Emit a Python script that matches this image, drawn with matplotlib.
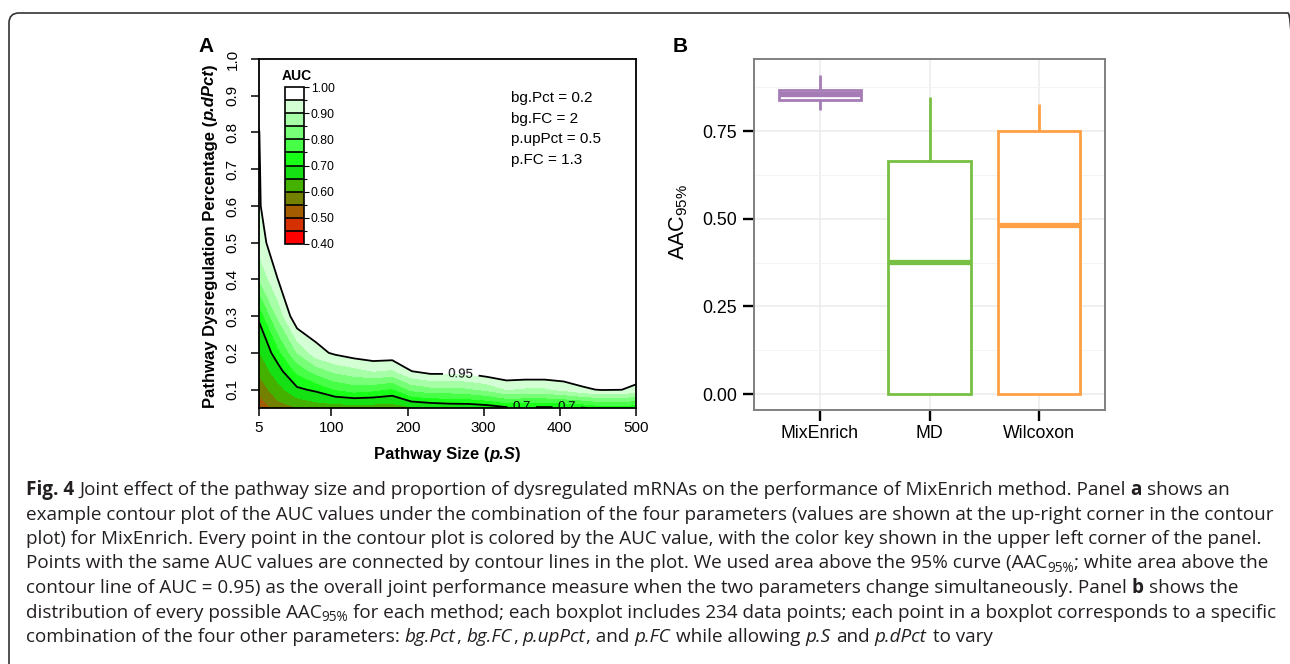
import numpy as np
import matplotlib
matplotlib.use("Agg")
import matplotlib.pyplot as plt
from matplotlib.patches import FancyBboxPatch
from matplotlib.ticker import FixedLocator

# ---------------- data: panel A (AUC surface) ----------------
path_size = [5, 30, 55, 80, 105, 130, 155, 180, 205, 230, 255, 280, 305, 330, 355, 380, 405, 430, 455, 480, 500]
dys_pct = [0.05, 0.10, 0.15, 0.20, 0.30, 0.40, 0.50, 0.60, 0.70, 0.80, 0.90, 1.00]

auc_p05 = [0.499, 0.58, 0.60, 0.62, 0.62, 0.62, 0.62, 0.62, 0.64, 0.65, 0.66, 0.66, 0.67, 0.69, 0.69, 0.69, 0.69, 0.695, 0.72, 0.72, 0.71]
auc_p10 = [0.57, 0.63, 0.69, 0.71, 0.75, 0.77, 0.76, 0.74, 0.81, 0.83, 0.83, 0.84, 0.86, 0.90, 0.89, 0.89, 0.91, 0.94, 0.955, 0.952, 0.93]
auc_p15 = [0.61, 0.68, 0.76, 0.82, 0.86, 0.88, 0.90, 0.89, 0.949, 0.97, 0.97, 0.97, 0.99, 1.0, 1.0, 1.0, 1.0, 1.0, 1.0, 1.0, 1.0]
auc_p20 = [0.645, 0.73, 0.85, 0.93, 0.96, 0.98, 0.99, 0.99, 1.0, 1.0, 1.0, 1.0, 1.0, 1.0, 1.0, 1.0, 1.0, 1.0, 1.0, 1.0, 1.0]
auc_p30 = [0.71, 0.86, 1.0, 1.0, 1.0, 1.0, 1.0, 1.0, 1.0, 1.0, 1.0, 1.0, 1.0, 1.0, 1.0, 1.0, 1.0, 1.0, 1.0, 1.0, 1.0]
auc_p40 = [0.85, 0.951, 1.0, 1.0, 1.0, 1.0, 1.0, 1.0, 1.0, 1.0, 1.0, 1.0, 1.0, 1.0, 1.0, 1.0, 1.0, 1.0, 1.0, 1.0, 1.0]
auc_p50 = [0.925, 0.99, 1.0, 1.0, 1.0, 1.0, 1.0, 1.0, 1.0, 1.0, 1.0, 1.0, 1.0, 1.0, 1.0, 1.0, 1.0, 1.0, 1.0, 1.0, 1.0]
auc_p60 = [0.945, 1.0, 1.0, 1.0, 1.0, 1.0, 1.0, 1.0, 1.0, 1.0, 1.0, 1.0, 1.0, 1.0, 1.0, 1.0, 1.0, 1.0, 1.0, 1.0, 1.0]
auc_p70 = [0.947, 1.0, 1.0, 1.0, 1.0, 1.0, 1.0, 1.0, 1.0, 1.0, 1.0, 1.0, 1.0, 1.0, 1.0, 1.0, 1.0, 1.0, 1.0, 1.0, 1.0]
auc_p80 = [0.949, 1.0, 1.0, 1.0, 1.0, 1.0, 1.0, 1.0, 1.0, 1.0, 1.0, 1.0, 1.0, 1.0, 1.0, 1.0, 1.0, 1.0, 1.0, 1.0, 1.0]
auc_p90 = [0.96, 1.0, 1.0, 1.0, 1.0, 1.0, 1.0, 1.0, 1.0, 1.0, 1.0, 1.0, 1.0, 1.0, 1.0, 1.0, 1.0, 1.0, 1.0, 1.0, 1.0]
auc_p100 = [0.98, 1.0, 1.0, 1.0, 1.0, 1.0, 1.0, 1.0, 1.0, 1.0, 1.0, 1.0, 1.0, 1.0, 1.0, 1.0, 1.0, 1.0, 1.0, 1.0, 1.0]

auc_levels = [0.40, 0.45, 0.50, 0.55, 0.60, 0.65, 0.70, 0.75, 0.80, 0.85, 0.90, 0.95, 1.00]
auc_ticks = [0.40, 0.50, 0.60, 0.70, 0.80, 0.90, 1.00]
plain_levels = [0.5]
labelled_levels = [0.7, 0.95]
x_ticks = [5, 100, 200, 300, 400, 500]
y_ticks = [0.1, 0.2, 0.3, 0.4, 0.5, 0.6, 0.7, 0.8, 0.9, 1.0]
param_text = ["bg.Pct = 0.2", "bg.FC = 2", "p.upPct = 0.5", "p.FC = 1.3"]

# ---------------- data: panel B (boxplot summaries) ----------------
methods = ["MixEnrich", "MD", "Wilcoxon"]
whisk_low = [0.810, 0.000, 0.000]
box_q1 = [0.839, 0.000, 0.000]
box_median = [0.855, 0.377, 0.482]
box_q3 = [0.868, 0.665, 0.750]
whisk_high = [0.910, 0.846, 0.827]
b_ticks = [0.00, 0.25, 0.50, 0.75]

# ---------------- styles ----------------
band_colors = ["#ff0000", "#d43000", "#a45c00", "#748000", "#44b000", "#14e014",
               "#18ff18", "#46ff46", "#77ff77", "#a6ffa6", "#d4ffd4", "#ffffff"]
method_colors = ["#a57cb5", "#78c043", "#ffa045"]

plt.rcParams["font.family"] = ["Liberation Sans", "DejaVu Sans"]
plt.rcParams["mathtext.fontset"] = "custom"
plt.rcParams["mathtext.rm"] = "Liberation Sans"
plt.rcParams["mathtext.it"] = "Liberation Sans:italic"
plt.rcParams["mathtext.bf"] = "Liberation Sans:bold"

W, H = 1290, 664
fig = plt.figure(figsize=(W / 100, H / 100), dpi=100)
renderer = fig.canvas.get_renderer()


def fr(l, t, r, b):
    return [l / W, 1 - b / H, (r - l) / W, (b - t) / H]


def fx(px):
    return px / W


def fy(py):
    return 1 - py / H


def width_of(s, kw):
    t = fig.text(0, 0, s, **kw)
    w = t.get_window_extent(renderer).width
    t.remove()
    return w


def compose(runs, cx, cy, base_kw, vertical=False):
    """Place mixed-style runs centred on (cx, cy) pixels (top-left origin)."""
    pieces = []
    total = 0.0
    for s, extra in runs:
        kw = dict(base_kw)
        kw.update(extra)
        w = width_of(s, kw)
        pieces.append((s, kw, w))
        total += w
    pos = -total / 2
    for s, kw, w in pieces:
        if vertical:
            fig.text(fx(cx), fy(cy - pos), s, rotation=90, rotation_mode="anchor",
                     ha="left", va="center", **kw)
        else:
            fig.text(fx(cx + pos), fy(cy), s, ha="left", va="center", **kw)
        pos += w + (1.5 if extra.get("fontstyle") == "italic" else 0.0)


# ---------------- Panel A ----------------
axA = fig.add_axes(fr(259, 59, 636, 408))
X, Y = np.meshgrid(path_size, dys_pct)
Z = np.array([auc_p05, auc_p10, auc_p15, auc_p20, auc_p30, auc_p40, auc_p50,
              auc_p60, auc_p70, auc_p80, auc_p90, auc_p100])
cf = axA.contourf(X, Y, Z, levels=auc_levels, colors=band_colors)
axA.contour(X, Y, Z, levels=plain_levels, colors="black", linewidths=1.3)
cs = axA.contour(X, Y, Z, levels=labelled_levels, colors="black", linewidths=1.3)
axA.clabel(cs, fmt=lambda v: f"{v:g}", fontsize=9.5,
           inline=True, inline_spacing=5,
           manual=[(270, 0.14), (350, 0.052), (409, 0.052)])
axA.set_xlim(5, 500)
axA.set_ylim(0.05, 1.0)
axA.set_xticks(x_ticks)
axA.set_xticklabels([str(v) for v in x_ticks])
axA.set_yticks(y_ticks)
axA.set_yticklabels([f"{v:.1f}" for v in y_ticks])
axA.tick_params(direction="out", length=6, width=1.1, labelsize=11, color="black")
axA.tick_params(axis="x", pad=3)
axA.tick_params(axis="y", pad=8)
for lab in axA.get_yticklabels():
    lab.set_rotation(90)
    lab.set_va("center")
for sp in axA.spines.values():
    sp.set_linewidth(1.3)
    sp.set_color("black")
for i, s in enumerate(param_text):
    axA.text(336, 0.894 - 0.0563 * i, s, fontsize=11, va="center", ha="left")

lab_kw = dict(family="Liberation Sans", fontsize=12, fontweight="bold", color="black")
compose([("Pathway Dysregulation Percentage (", {}), ("p.dPct", {"fontstyle": "italic"}), (")", {})],
        210, 236, lab_kw, vertical=True)
compose([("Pathway Size (", {}), ("p.S", {"fontstyle": "italic"}), (")", {})],
        447, 455, lab_kw, vertical=False)

# colour key inside panel A
cax = fig.add_axes(fr(285, 87, 304, 244))
cb = fig.colorbar(cf, cax=cax, ticks=auc_ticks, drawedges=True, format="%.2f")
cb.minorlocator = FixedLocator(auc_levels)
cb.outline.set_linewidth(1.2)
cb.outline.set_edgecolor("black")
cb.dividers.set_linewidth(1.2)
cb.dividers.set_color("black")
cax.tick_params(which="major", length=3.5, width=0.8, labelsize=8.8, pad=1.5)
cax.tick_params(which="minor", length=2.2, width=0.8)
fig.text(fx(282), fy(76), "AUC", fontsize=10, fontweight="bold", va="center", ha="left")

fig.text(fx(198), fy(52), "A", fontsize=15, fontweight="bold", va="baseline")

# ---------------- Panel B ----------------
axB = fig.add_axes(fr(754, 59, 1105, 410))
stats = []
for m, wl, a, md, b, wh in zip(methods, whisk_low, box_q1, box_median, box_q3, whisk_high):
    stats.append(dict(label=m, whislo=wl, q1=a, med=md, q3=b, whishi=wh, fliers=[]))
bp = axB.bxp(stats, positions=[1, 2, 3], widths=0.75, patch_artist=True,
             showcaps=False, showfliers=False,
             boxprops=dict(linewidth=2.0),
             whiskerprops=dict(linewidth=2.0, solid_capstyle="butt"),
             medianprops=dict(linewidth=3.8, solid_capstyle="butt"))
for i, c in enumerate(method_colors):
    bp["boxes"][i].set_facecolor("white")
    bp["boxes"][i].set_edgecolor(c)
    bp["boxes"][i].set_zorder(3)
    bp["medians"][i].set_color(c)
    bp["medians"][i].set_zorder(4)
    bp["whiskers"][2 * i].set_color(c)
    bp["whiskers"][2 * i + 1].set_color(c)
axB.set_xlim(0.4, 3.6)
axB.set_ylim(-0.0455, 0.9555)
axB.set_yticks(b_ticks)
axB.set_yticklabels([f"{v:.2f}" for v in b_ticks])
axB.set_yticks([0.125, 0.375, 0.625, 0.875], minor=True)
axB.set_xticks([1, 2, 3])
axB.set_xticklabels(methods)
axB.set_axisbelow(True)
axB.grid(True, which="major", color="#ebebeb", linewidth=1.1)
axB.grid(True, which="minor", axis="y", color="#f4f4f4", linewidth=0.7)
axB.tick_params(which="major", length=8, width=1.7, color="black", labelsize=12.8,
                labelcolor="black")
axB.tick_params(axis="y", pad=4)
axB.tick_params(axis="x", pad=3)
axB.tick_params(which="minor", length=0)
for sp in axB.spines.values():
    sp.set_linewidth(1.4)
    sp.set_color("#808080")
fig.text(fx(679), fy(222), r"AAC$_{95\%}$", rotation=90, ha="center", va="center", fontsize=15.5)
fig.text(fx(673), fy(52), "B", fontsize=15, fontweight="bold", va="baseline")

# ---------------- caption box ----------------
box = FancyBboxPatch((fx(9), fy(H + 30)), fx(1298 - 9), (H - 13 + 30) / H,
                     boxstyle=f"round,pad=0,rounding_size={10 / W}",
                     mutation_aspect=W / H, transform=fig.transFigure,
                     facecolor="none", edgecolor="#333333", linewidth=1.2)
fig.add_artist(box)

cap_family = "Open Sans"
cap_color = "#231f20"
cap_left = 26.0

caption_lines = [
    [("Fig. 4", "b"), (" Joint effect of the pathway size and proportion of dysregulated mRNAs on the performance of MixEnrich method. Panel ", "n"), ("a", "b"), (" shows an", "n")],
    [("example contour plot of the AUC values under the combination of the four parameters (values are shown at the up-right corner in the contour", "n")],
    [("plot) for MixEnrich. Every point in the contour plot is colored by the AUC value, with the color key shown in the upper left corner of the panel.", "n")],
    [("Points with the same AUC values are connected by contour lines in the plot. We used area above the 95% curve (AAC", "n"), ("95%", "s"), ("; white area above the", "n")],
    [("contour line of AUC = 0.95) as the overall joint performance measure when the two parameters change simultaneously. Panel ", "n"), ("b", "b"), (" shows the", "n")],
    [("distribution of every possible AAC", "n"), ("95%", "s"), (" for each method; each boxplot includes 234 data points; each point in a boxplot corresponds to a specific", "n")],
    [("combination of the four other parameters: ", "n"), ("bg.Pct", "i"), (", ", "n"), ("bg.FC", "i"), (", ", "n"), ("p.upPct", "i"), (", and ", "n"), ("p.FC", "i"), (" while allowing ", "n"), ("p.S", "i"), (" and ", "n"), ("p.dPct", "i"), (" to vary", "n")],
]
fit_lines = [1, 2, 3, 4, 5]
fit_right = 1276
caption_baselines = [495, 519.5, 544, 568.5, 593, 617.5, 642]


def style_kw(st, fs):
    kw = dict(family=cap_family, color=cap_color, fontsize=fs)
    if st == "b":
        kw["fontweight"] = "bold"
    elif st == "i":
        kw["fontstyle"] = "italic"
    elif st == "s":
        kw["fontsize"] = fs * 0.72
    return kw


def line_layout(runs, fs):
    sp_w = width_of("a a", style_kw("n", fs)) - width_of("aa", style_kw("n", fs))
    out = []
    x = cap_left
    for s, st in runs:
        kw = style_kw(st, fs)
        core = s.strip(" ")
        lead = len(s) - len(s.lstrip(" "))
        trail = len(s) - len(s.rstrip(" "))
        x += lead * sp_w
        out.append((x, core, kw, st))
        x += width_of(core, kw) + (1.0 if st == "i" else 0.0)
        x += trail * sp_w
    return out, x


fits = []
for k in fit_lines:
    _, end = line_layout(caption_lines[k], 10)
    fits.append(10 * (fit_right - cap_left) / (end - cap_left))
cap_fs = min(fits)

for runs, base in zip(caption_lines, caption_baselines):
    placed, _ = line_layout(runs, cap_fs)
    for x, core, kw, st in placed:
        yb = base + (3.5 if st == "s" else 0)
        fig.text(fx(x), fy(yb), core, va="baseline", ha="left", **kw)

fig.savefig("out.png", dpi=100)
